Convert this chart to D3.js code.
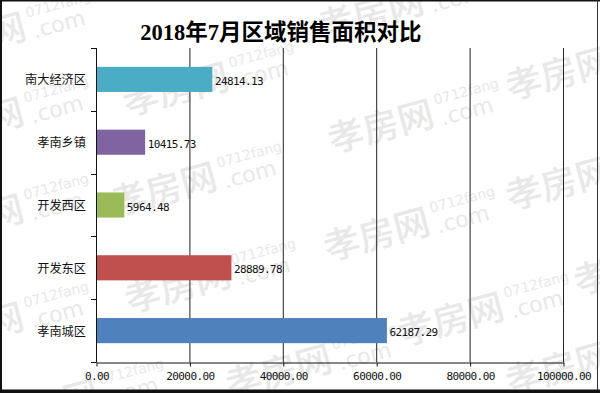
<!DOCTYPE html>
<html>
<head>
<meta charset="utf-8">
<script src="https://cdn.jsdelivr.net/npm/d3@7/dist/d3.min.js"></script>
<style>
  html, body { margin: 0; padding: 0; background: #fff; }
  svg { display: block; }
</style>
</head>
<body>
<svg id="chart" width="600" height="393"></svg>
<script>
// ---- data ----
const title = "2018年7月区域销售面积对比";
const categories = ["南大经济区", "孝南乡镇", "开发西区", "开发东区", "孝南城区"];
const values = [24814.13, 10415.73, 5964.48, 28889.78, 62187.29];
const colors = ["#4BACC6", "#8064A2", "#9BBB59", "#C0504D", "#4F81BD"];
const xTicks = [0, 20000, 40000, 60000, 80000, 100000];

// ---- layout ----
const W = 600, H = 393;
const plot = { left: 96, right: 563, top: 48, bottom: 362 };
const svg = d3.select("#chart");

svg.append("rect").attr("width", W).attr("height", H).attr("fill", "#fff");

// watermark (decoration, as in the reference picture)
const wmAnchors = [[-76,66],[-78,151],[-78,248],[-78,356],[127,116],[115,216],[129,313],[230,398],[-3,433],
  [332,153],[328,261],[402,346],[322,40],[510,100],[510,210],[578,295],[510,395]];
const wm = svg.append("g").attr("class", "watermark").attr("fill", "#e8e8e8");
wmAnchors.forEach(([ax, ay]) => {
  const g = wm.append("g").attr("transform", `translate(${ax},${ay}) rotate(-15)`);
  g.append("text").attr("x", 0).attr("y", 0)
    .attr("font-family", "Noto Sans CJK SC").attr("font-weight", 500).attr("font-size", 36).text("孝房网");
  g.append("text").attr("x", 112).attr("y", -20)
    .attr("font-family", "DejaVu Sans").attr("font-size", 14).text("0712fang");
  g.append("text").attr("x", 114).attr("y", 2)
    .attr("font-family", "DejaVu Sans").attr("font-size", 22).text(".com");
});

// scales
const x = d3.scaleLinear().domain([0, 100000]).range([plot.left, plot.right]);
const yBand = d3.scaleBand().domain(categories).range([plot.top, plot.bottom]).padding(0);
const yBar = d3.scaleBand().domain(categories).range([plot.top, plot.bottom])
  .paddingInner(0.6).paddingOuter(0.3);

// gridlines
svg.append("g").selectAll("line").data(xTicks.slice(1)).join("line")
  .attr("x1", d => x(d) + 0.5).attr("x2", d => x(d) + 0.5)
  .attr("y1", plot.top).attr("y2", plot.bottom)
  .attr("stroke", "#222").attr("stroke-width", 1);

// bars
svg.append("g").selectAll("rect").data(categories).join("rect")
  .attr("x", x(0) + 0.5)
  .attr("y", d => yBar(d))
  .attr("width", (d, i) => x(values[i]) - x(0))
  .attr("height", yBar.bandwidth())
  .attr("fill", (d, i) => colors[i]);

// x axis
const xAxis = d3.axisBottom(x).tickValues(xTicks).tickSize(4).tickSizeOuter(0)
  .tickFormat(d3.format(".2f"));
const gx = svg.append("g").attr("transform", `translate(0.5,${plot.bottom + 0.5})`).call(xAxis);
gx.select(".domain").attr("stroke", "#111");
gx.selectAll(".tick line").attr("stroke", "#111");
gx.selectAll(".tick text")
  .attr("font-family", "DejaVu Sans Mono").attr("font-size", 11)
  .attr("letter-spacing", "-0.6px").attr("fill", "#111").attr("y", 10);

// y axis: line + boundary ticks
const gy = svg.append("g");
gy.append("line").attr("x1", x(0) + 0.5).attr("x2", x(0) + 0.5)
  .attr("y1", plot.top).attr("y2", plot.bottom + 0.5).attr("stroke", "#111");
const boundaries = categories.map(c => yBand(c)).concat([plot.bottom]);
gy.selectAll("line.tk").data(boundaries).join("line").attr("class", "tk")
  .attr("x1", x(0) - 5).attr("x2", x(0) + 0.5)
  .attr("y1", d => Math.round(d) + 0.5).attr("y2", d => Math.round(d) + 0.5)
  .attr("stroke", "#111");

// category labels
svg.append("g").selectAll("text").data(categories).join("text")
  .attr("x", x(0) - 10)
  .attr("y", d => yBand(d) + yBand.bandwidth() / 2)
  .attr("text-anchor", "end").attr("dominant-baseline", "central")
  .attr("font-family", "Noto Sans CJK SC").attr("font-size", 12.2).attr("fill", "#111")
  .text(d => d);

// value labels
svg.append("g").selectAll("text").data(categories).join("text")
  .attr("x", (d, i) => x(values[i]) + 3)
  .attr("y", d => yBar(d) + yBar.bandwidth() / 2 + 2)
  .attr("dominant-baseline", "central")
  .attr("font-family", "DejaVu Sans Mono").attr("font-size", 11)
  .attr("letter-spacing", "-0.6px").attr("fill", "#111")
  .text((d, i) => d3.format(".2f")(values[i]));

// title
svg.append("text").attr("x", 281).attr("y", 40).attr("text-anchor", "middle")
  .attr("font-family", "Liberation Serif, Noto Sans CJK SC").attr("font-weight", 700)
  .attr("font-size", 22.5).attr("fill", "#000").text(title);

// outer frame
svg.append("line").attr("x1", 0).attr("x2", W).attr("y1", 0.75).attr("y2", 0.75).attr("stroke", "#111").attr("stroke-width", 1.5);
svg.append("line").attr("x1", 1).attr("x2", 1).attr("y1", 0).attr("y2", H).attr("stroke", "#111").attr("stroke-width", 2);
svg.append("line").attr("x1", 597.5).attr("x2", 597.5).attr("y1", 0).attr("y2", H).attr("stroke", "#333").attr("stroke-width", 1);
svg.append("rect").attr("x", 0).attr("y", 389.5).attr("width", W).attr("height", H - 389.5).attr("fill", "#111");
</script>
</body>
</html>
